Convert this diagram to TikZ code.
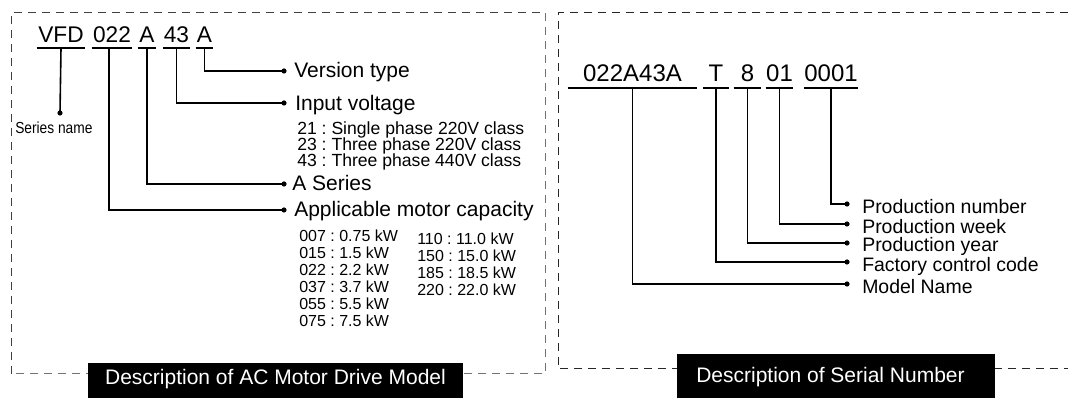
\documentclass[tikz,border=0pt]{standalone}
\usepackage{fontspec}
\setmainfont{Liberation Sans}
\newfontfamily\narrowsans[FakeStretch=0.86]{Liberation Sans}
\frenchspacing
\begin{document}
\begin{tikzpicture}[x=0.75pt,y=-0.75pt,
  codeL/.style={anchor=base, inner xsep=0pt, inner ysep=3.75pt, text depth=0pt, font=\fontsize{17}{20}\selectfont},
  codeR/.style={anchor=base, inner xsep=0pt, inner ysep=4.5pt, text depth=0pt, font=\fontsize{18}{21}\selectfont},
  uline/.style={line width=1.2pt},
  conn/.style={line width=1.2pt},
  dotc/.style={fill=black},
  labL/.style={anchor=base west, inner sep=0pt, font=\fontsize{15.75}{18}\selectfont},
  labS/.style={anchor=base west, inner sep=0pt, font=\fontsize{13.2}{15}\selectfont},
  labT/.style={anchor=base west, inner sep=0pt, font=\fontsize{12}{14}\selectfont},
  labR/.style={anchor=base west, inner sep=0pt, font=\fontsize{14.6}{16}\selectfont},
  dashL/.style={dash pattern=on 6pt off 4.5pt, line width=0.75pt, black!75},
  dashLg/.style={dash pattern=on 6pt off 4.5pt, line width=0.75pt, black!55},
  dashR/.style={dash pattern=on 6pt off 4.5pt, line width=0.75pt, black!85},
  title/.style={fill=black, text=white, inner sep=0pt, font=\fontsize{15.75}{18}\selectfont}
]
\useasboundingbox (0,0) rectangle (1068,398);

% ---------------- dashed frames ----------------
\draw[dashL] (11,374) -- (11,13) -- (545,13);
\draw[dashLg] (545,13) -- (545,374) -- (11,374);
\draw[dashR] (1068,13) -- (558,13) -- (558,369) -- (1068,369);

% ---------------- left: model code ----------------
\node[codeL, minimum width=36pt] (vfd) at (61,43) {VFD};
\node[codeL, minimum width=30pt] (c022) at (112,43) {022};
\node[codeL, minimum width=13.5pt] (ca1) at (147,43) {A};
\node[codeL, minimum width=20pt] (c43) at (176.5,43) {43};
\node[codeL, minimum width=13pt] (ca2) at (204.5,43) {A};
\foreach \n in {vfd,c022,ca1,c43,ca2}
  \draw[uline] (\n.south west) -- (\n.south east);

\coordinate (dS) at (60,113);
\coordinate (dV) at (284,71);
\coordinate (dI) at (284,103);
\coordinate (dA) at (284,184);
\coordinate (dM) at (284,210);

\draw[conn] (vfd.south) -- (dS);
\draw[conn] (ca2.south) |- (dV);
\draw[conn] (c43.south) |- (dI);
\draw[conn] (ca1.south) |- (dA);
\draw[conn] ([xshift=-2.25pt]c022.south) |- (dM);
\foreach \d in {dS,dV,dI,dA,dM} \fill[dotc] (\d) circle (2.6);

\node[anchor=west, inner sep=0pt, font=\narrowsans\fontsize{12}{14}\selectfont] (tS) at (15,128) {Series name};
\node[labL] (tV) at (294,78) {Version type};
\node[labL] (tI) at (295,111) {Input voltage};
\node[labS] (v21) at (297,135) {21 : Single phase 220V class};
\node[labS] (v23) at (297,151) {23 : Three phase 220V class};
\node[labS] (v43) at (297,167) {43 : Three phase 440V class};
\node[labL] (tA) at (292,191) {A Series};
\node[labL] (tM) at (294,217) {Applicable motor capacity};

\node[labT] (k007) at (299,242) {007 : 0.75 kW};
\node[labT] (k015) at (299,259) {015 : 1.5 kW};
\node[labT] (k022) at (299,276) {022 : 2.2 kW};
\node[labT] (k037) at (299,293) {037 : 3.7 kW};
\node[labT] (k055) at (299,310) {055 : 5.5 kW};
\node[labT] (k075) at (299,327) {075 : 7.5 kW};
\node[labT] (k110) at (417,245) {110 : 11.0 kW};
\node[labT] (k150) at (417,262) {150 : 15.0 kW};
\node[labT] (k185) at (417,279) {185 : 18.5 kW};
\node[labT] (k220) at (417,296) {220 : 22.0 kW};

% ---------------- right: serial number ----------------
\node[codeR, minimum width=96.75pt] (s1) at (632.5,82) {022A43A};
\node[codeR, minimum width=19.5pt] (s2) at (716,82) {T};
\node[codeR, minimum width=20.25pt] (s3) at (747.5,82) {8};
\node[codeR, minimum width=20.25pt] (s4) at (779.5,82) {01};
\node[codeR, minimum width=39pt] (s5) at (831,82) {0001};
\foreach \n in {s1,s2,s3,s4,s5}
  \draw[uline] (\n.south west) -- (\n.south east);

\coordinate (eN) at (847,204);
\coordinate (eW) at (847,224);
\coordinate (eY) at (847,243);
\coordinate (eF) at (847,262);
\coordinate (eM) at (847,284);

\draw[conn] (s5.south) |- (eN);
\draw[conn] (s4.south) |- (eW);
\draw[conn] (s3.south) |- (eY);
\draw[conn] (s2.south) |- (eF);
\draw[conn] (s1.south) |- (eM);
\foreach \d in {eN,eW,eY,eF,eM} \fill[dotc] (\d) circle (2.6);

\node[labR] (rN) at (862,214) {Production number};
\node[labR] (rW) at (862,234) {Production week};
\node[labR] (rY) at (862,252) {Production year};
\node[labR] (rF) at (862,272) {Factory control code};
\node[labR] (rM) at (862,294) {Model Name};

% ---------------- title bars ----------------
\fill[black] (88,363) rectangle (463,400);
\node[title, anchor=base] (tL) at (275.5,385) {Description of AC Motor Drive Model};
\fill[black] (677,354) rectangle (995,400);
\node[title, anchor=base] (tR) at (830.5,383) {Description of Serial Number};
\end{tikzpicture}
\end{document}
